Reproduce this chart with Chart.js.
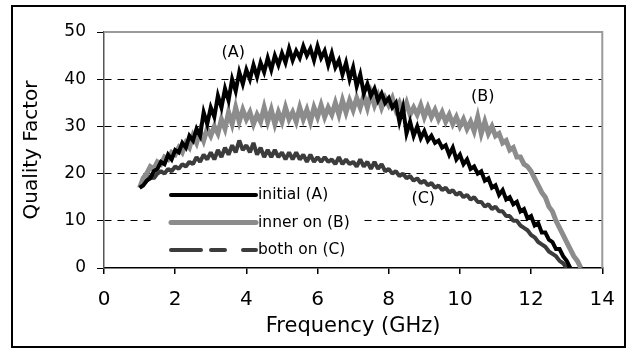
<!DOCTYPE html>
<html>
<head>
<meta charset="utf-8">
<script src="https://cdn.jsdelivr.net/npm/chart.js@4/dist/chart.umd.min.js"></script>
<style>
  body { margin: 0; background: #fff; }
  canvas { display: block; }
</style>
</head>
<body>
<canvas id="graficoQ" width="629" height="350"></canvas>
<script>
// Frecuencia en GHz (eje x)
const frecuencias = [
  1.0, 1.1, 1.2, 1.3, 1.4, 1.5, 1.6, 1.7, 1.8, 1.9,
  2.0, 2.1, 2.2, 2.3, 2.4, 2.5, 2.6, 2.7, 2.8, 2.9,
  3.0, 3.1, 3.2, 3.3, 3.4, 3.5, 3.6, 3.7, 3.8, 3.9,
  4.0, 4.1, 4.2, 4.3, 4.4, 4.5, 4.6, 4.7, 4.8, 4.9,
  5.0, 5.1, 5.2, 5.3, 5.4, 5.5, 5.6, 5.7, 5.8, 5.9,
  6.0, 6.1, 6.2, 6.3, 6.4, 6.5, 6.6, 6.7, 6.8, 6.9,
  7.0, 7.1, 7.2, 7.3, 7.4, 7.5, 7.6, 7.7, 7.8, 7.9,
  8.0, 8.1, 8.2, 8.3, 8.4, 8.5, 8.6, 8.7, 8.8, 8.9,
  9.0, 9.1, 9.2, 9.3, 9.4, 9.5, 9.6, 9.7, 9.8, 9.9,
  10.0, 10.1, 10.2, 10.3, 10.4, 10.5, 10.6, 10.7, 10.8, 10.9,
  11.0, 11.1, 11.2, 11.3, 11.4, 11.5, 11.6, 11.7, 11.8, 11.9,
  12.0, 12.1, 12.2, 12.3, 12.4, 12.5, 12.6, 12.7, 12.8, 12.9,
  13.0, 13.1, 13.2, 13.3, 13.4
];

// Factor de calidad, initial (A)
const serieA = [
  17, 17.5, 18.5, 19, 20.5, 21, 22.5, 22, 24, 23,
  25, 24.5, 26.5, 25.5, 28, 27, 29.5, 28, 33, 30.5,
  34, 32, 36.5, 34, 38, 35.5, 40, 37.5, 41.5, 39,
  42, 40, 43, 40.5, 43.5, 41.5, 44.5, 42, 45, 43,
  45.5, 43.5, 46.5, 44, 46, 44.5, 47, 45, 46.5, 44,
  47, 44.5, 46, 43, 45.5, 42.5, 44, 41, 43.5, 40,
  42.5, 38.5, 41, 37, 39, 36.5, 38, 35.5, 37, 35,
  36, 34, 35, 31, 34, 28.5, 31, 28, 30, 27.5,
  29, 27, 28, 26.5, 27, 25.5, 26, 24, 25.5, 23,
  24, 22, 23, 21, 21.5, 20, 20.5, 18.5, 19, 17,
  17.5, 15.5, 16.5, 14.5, 15, 13.5, 14, 12, 12.5, 10.5,
  11, 9, 9.5, 7.5, 7.5, 6, 5.5, 4, 4, 2.5,
  1.5, 0
];

// inner on (B)
const serieB = [
  17, 19, 20, 21.5, 21, 22.5, 22, 23.5, 23, 24.5,
  24, 25.5, 24.5, 26.5, 25.5, 28, 26.5, 29, 27, 29.5,
  28, 30, 28.5, 31.5, 29.5, 33, 30.5, 34, 31, 33.5,
  31.5, 33, 30.5, 32.5, 31, 34, 31, 33.5, 30.5, 33,
  31, 34, 31.5, 33, 31, 34, 31.5, 33.5, 31, 34,
  32, 34.5, 32, 34, 32.5, 35, 32.5, 35.5, 33, 35.5,
  33.5, 36, 34, 36.5, 34, 37, 34.5, 36.5, 34, 36,
  34.5, 36, 33.5, 35, 33, 35, 32.5, 34, 32.5, 34.5,
  32, 34, 32, 33.5, 31.5, 33, 31, 32.5, 30.5, 32,
  30, 31.5, 29.5, 31, 29, 32, 28.5, 31, 28.5, 30,
  28, 28.5, 26.5, 27, 25, 25.5, 23.5, 23.5, 22, 21.5,
  20.5, 19, 17.5, 16, 15, 13, 12, 10, 8.5, 7,
  5.5, 4, 2.5, 1.5, 0
];

// both on (C)
const serieC = [
  17, 18, 18.5, 19.5, 19, 20, 20.5, 20, 21, 20.5,
  21.5, 21, 22, 21.5, 22.5, 22, 23.5, 22.5, 24, 23,
  24.5, 23, 25, 23.5, 25.5, 24, 26, 24.5, 27, 25,
  26, 24.5, 26.5, 24, 25.5, 23.5, 25, 23.5, 25, 23.5,
  24.5, 23, 24.5, 23, 24.5, 23, 24, 22.5, 24, 22.5,
  23.5, 22.5, 23.5, 22.5, 23, 22, 23.5, 22, 23, 22,
  22.5, 21.5, 23, 21.5, 22.5, 21, 22.5, 21, 22, 20.5,
  21, 20, 20.5, 19.5, 20, 19, 19.5, 18.5, 19, 18,
  18.5, 17.5, 18, 17, 17.5, 16.5, 17, 16, 16.5, 15.5,
  16, 15, 15.5, 14.5, 15, 14, 14, 13, 13.5, 12.5,
  13, 12, 12, 11, 11, 10, 10, 9, 8.5, 8,
  7, 6.5, 5.5, 5, 4.5, 3.5, 3, 2.5, 1.5, 1,
  0
];

const etiquetas = ['initial (A)', 'inner on (B)', 'both on (C)'];
const ticksX = [0, 2, 4, 6, 8, 10, 12, 14];
const ticksY = [0, 10, 20, 30, 40, 50];

// rotulos (A) (B) (C) sobre las curvas, en unidades de datos
const rotulos = ['(A)', '(B)', '(C)'];
const rotulosX = [3.63, 10.64, 8.97];
const rotulosY = [45.5, 36.2, 14.6];

const fuente = '"DejaVu Sans", sans-serif';

function puntos(serie) {
    return serie.map((v, i) => ({ x: frecuencias[i], y: v }));
}

// marco exterior y bordes grises del area de trazado
const marcoPlugin = {
    id: 'marco',
    afterDraw(chart) {
        const ctx = chart.ctx;
        const a = chart.chartArea;
        ctx.save();
        ctx.strokeStyle = '#9a9a9a';
        ctx.lineWidth = 2;
        ctx.beginPath();
        ctx.moveTo(a.left, a.top);
        ctx.lineTo(a.right, a.top);
        ctx.lineTo(a.right, a.bottom);
        ctx.stroke();
        ctx.strokeStyle = '#000';
        ctx.lineWidth = 2;
        ctx.strokeRect(12, 6, 613, 341);
        ctx.restore();
    }
};

// leyenda dentro del grafico + rotulos
const leyendaPlugin = {
    id: 'leyenda',
    afterDatasetsDraw(chart) {
        const ctx = chart.ctx;
        const sx = chart.scales.x, sy = chart.scales.y;
        ctx.save();
        ctx.fillStyle = '#fff';
        ctx.fillRect(156, 181, 208, 80);
        chart.data.datasets.forEach((ds, i) => {
            const y = 195 + i * 27.5;
            ctx.strokeStyle = ds.borderColor;
            ctx.lineWidth = ds.borderWidth;
            ctx.lineCap = 'round';
            ctx.setLineDash(i === 2 ? [30, 10, 14, 18] : []);
            ctx.beginPath();
            ctx.moveTo(171, y);
            ctx.lineTo(256, y);
            ctx.stroke();
            ctx.setLineDash([]);
            ctx.fillStyle = '#000';
            ctx.font = '15.5px ' + fuente;
            ctx.textBaseline = 'middle';
            ctx.textAlign = 'left';
            ctx.fillText(ds.label, 258, y);
        });
        ctx.font = '16px ' + fuente;
        ctx.textAlign = 'center';
        ctx.textBaseline = 'middle';
        rotulos.forEach((t, i) => {
            ctx.fillText(t, sx.getPixelForValue(rotulosX[i]), sy.getPixelForValue(rotulosY[i]));
        });
        ctx.restore();
    }
};

const ctx = document.getElementById('graficoQ').getContext('2d');

new Chart(ctx, {
    type: 'line',
    data: {
        datasets: [{
            label: etiquetas[0],
            data: puntos(serieA),
            borderColor: '#000000',
            borderWidth: 4,
            pointRadius: 0,
            tension: 0
        }, {
            label: etiquetas[1],
            data: puntos(serieB),
            borderColor: '#8c8c8c',
            borderWidth: 5,
            pointRadius: 0,
            tension: 0
        }, {
            label: etiquetas[2],
            data: puntos(serieC),
            borderColor: '#3c3c3c',
            borderWidth: 4,
            borderJoinStyle: 'bevel',
            pointRadius: 0,
            tension: 0
        }]
    },
    options: {
        responsive: false,
        animation: false,
        layout: { padding: { left: 14, top: 32, right: 24, bottom: 0 } },
        plugins: {
            legend: { display: false },
            tooltip: { enabled: false }
        },
        scales: {
            x: {
                type: 'linear',
                min: 0,
                max: 14,
                afterBuildTicks: s => { s.ticks = ticksX.map(v => ({ value: v })); },
                afterFit: s => { s.height = 82; },
                ticks: { color: '#000', font: { family: fuente, size: 20 }, padding: 14, maxRotation: 0 },
                grid: { drawOnChartArea: false, tickLength: 6, color: '#000', lineWidth: 1.5 },
                border: { color: '#000', width: 1.5 },
                title: {
                    display: true,
                    text: 'Frequency (GHz)',
                    color: '#000',
                    font: { family: fuente, size: 21 },
                    padding: { top: 11, bottom: 11 }
                }
            },
            y: {
                min: 0,
                max: 50,
                afterBuildTicks: s => { s.ticks = ticksY.map(v => ({ value: v })); },
                afterFit: s => { s.width = 90; },
                ticks: { color: '#000', font: { family: fuente, size: 17 }, padding: 11 },
                grid: {
                    tickLength: 7,
                    lineWidth: 1,
                    tickColor: '#000',
                    color: c => (c.tick && (c.tick.value === 0 || c.tick.value === 50)) ? 'rgba(0,0,0,0)' : '#000'
                },
                border: { color: '#555', width: 1.5, dash: [7, 6] },
                title: {
                    display: true,
                    text: 'Quality Factor',
                    color: '#000',
                    font: { family: fuente, size: 20 },
                    padding: { top: 6, bottom: 6 }
                }
            }
        }
    },
    plugins: [marcoPlugin, leyendaPlugin]
});
</script>
</body>
</html>
